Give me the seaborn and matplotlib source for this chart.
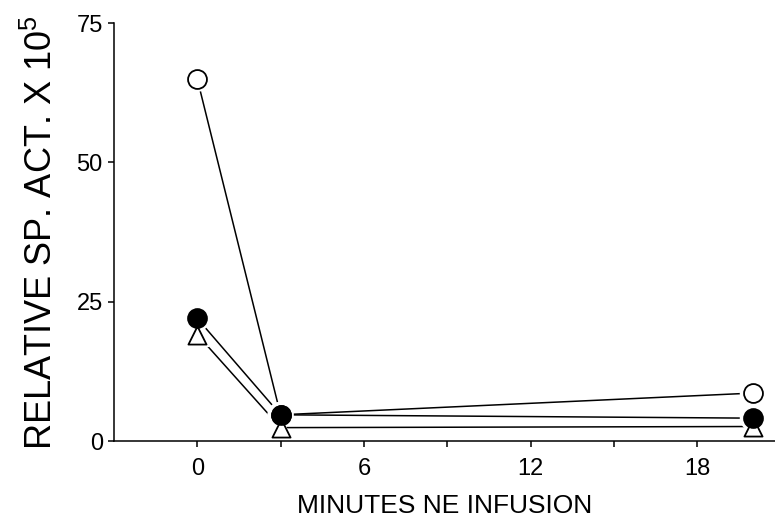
import pandas as pd
import matplotlib
matplotlib.use('Agg')
import matplotlib.pyplot as plt
import seaborn as sns

# minutes of NE infusion
minutes = [0, 3, 20]
# relative specific activity x 10^5
open_circle = [65.0, 4.7, 8.6]
filled_circle = [22.0, 4.7, 4.1]
open_triangle = [19.1, 2.4, 2.6]

x_ticks = [0, 3, 6, 9, 12, 15, 18]
x_tick_labels = ['0', '', '6', '', '12', '', '18']
y_ticks = [0, 25, 50, 75]


def build_frame():
    rows = []
    for name, vals in [('open', open_circle), ('filled', filled_circle), ('tri', open_triangle)]:
        for m, v in zip(minutes, vals):
            rows.append({'minutes': m, 'act': v, 'series': name})
    return pd.DataFrame(rows)


def plot(df):
    sns.set_theme(style='ticks', rc={
        'axes.linewidth': 1.1,
        'axes.edgecolor': 'black',
        'axes.labelcolor': 'black',
        'text.color': 'black',
        'xtick.color': 'black',
        'ytick.color': 'black',
        'xtick.major.width': 1.1,
        'ytick.major.width': 1.1,
        'xtick.major.size': 4.5,
        'ytick.major.size': 4.5,
    })
    plt.rcParams['font.family'] = ['Liberation Sans', 'DejaVu Sans']
    plt.rcParams['mathtext.fontset'] = 'custom'
    plt.rcParams['mathtext.rm'] = 'Liberation Sans'

    fig = plt.figure(figsize=(7.75, 5.25), dpi=100)
    ax = fig.add_axes([0.147, 0.16, 0.853, 0.796])

    # connecting lines
    for name in ['open', 'filled', 'tri']:
        sub = df[df['series'] == name]
        sns.lineplot(data=sub, x='minutes', y='act', color='black', linewidth=1.1,
                     errorbar=None, ax=ax, zorder=1)

    styles = {
        'tri': dict(marker='^', color='white', s=170),
        'filled': dict(marker='o', color='black', s=185),
        'open': dict(marker='o', color='white', s=185),
    }
    order = ['open', 'tri', 'filled']
    # white halos first so the lines stop short of the markers
    for name in order:
        sub = df[df['series'] == name]
        st = styles[name]
        sns.scatterplot(data=sub, x='minutes', y='act', marker=st['marker'], s=st['s'] * 1.9,
                        color='white', edgecolor='none', linewidth=0, ax=ax, zorder=2)
    z = 3
    for name in order:
        sub = df[df['series'] == name]
        st = styles[name]
        sns.scatterplot(data=sub, x='minutes', y='act', marker=st['marker'], s=st['s'],
                        color=st['color'], edgecolor='black', linewidth=1.3,
                        ax=ax, zorder=z)
        z += 1

    ax.set_xlim(-3, 20.8)
    ax.set_ylim(0, 75)
    ax.set_xticks(x_ticks)
    ax.set_xticklabels(x_tick_labels)
    ax.set_yticks(y_ticks)
    ax.tick_params(axis='x', labelsize=17, pad=8, direction='out')
    ax.tick_params(axis='y', labelsize=17, pad=3.5, direction='out')
    ax.set_xlabel('MINUTES NE INFUSION', fontsize=19, labelpad=10)
    ax.set_ylabel(r'RELATIVE SP. ACT. X 10$^5$', fontsize=26, labelpad=12)
    sns.despine(ax=ax)

    fig.savefig('out.png', dpi=100)


if __name__ == '__main__':
    plot(build_frame())
